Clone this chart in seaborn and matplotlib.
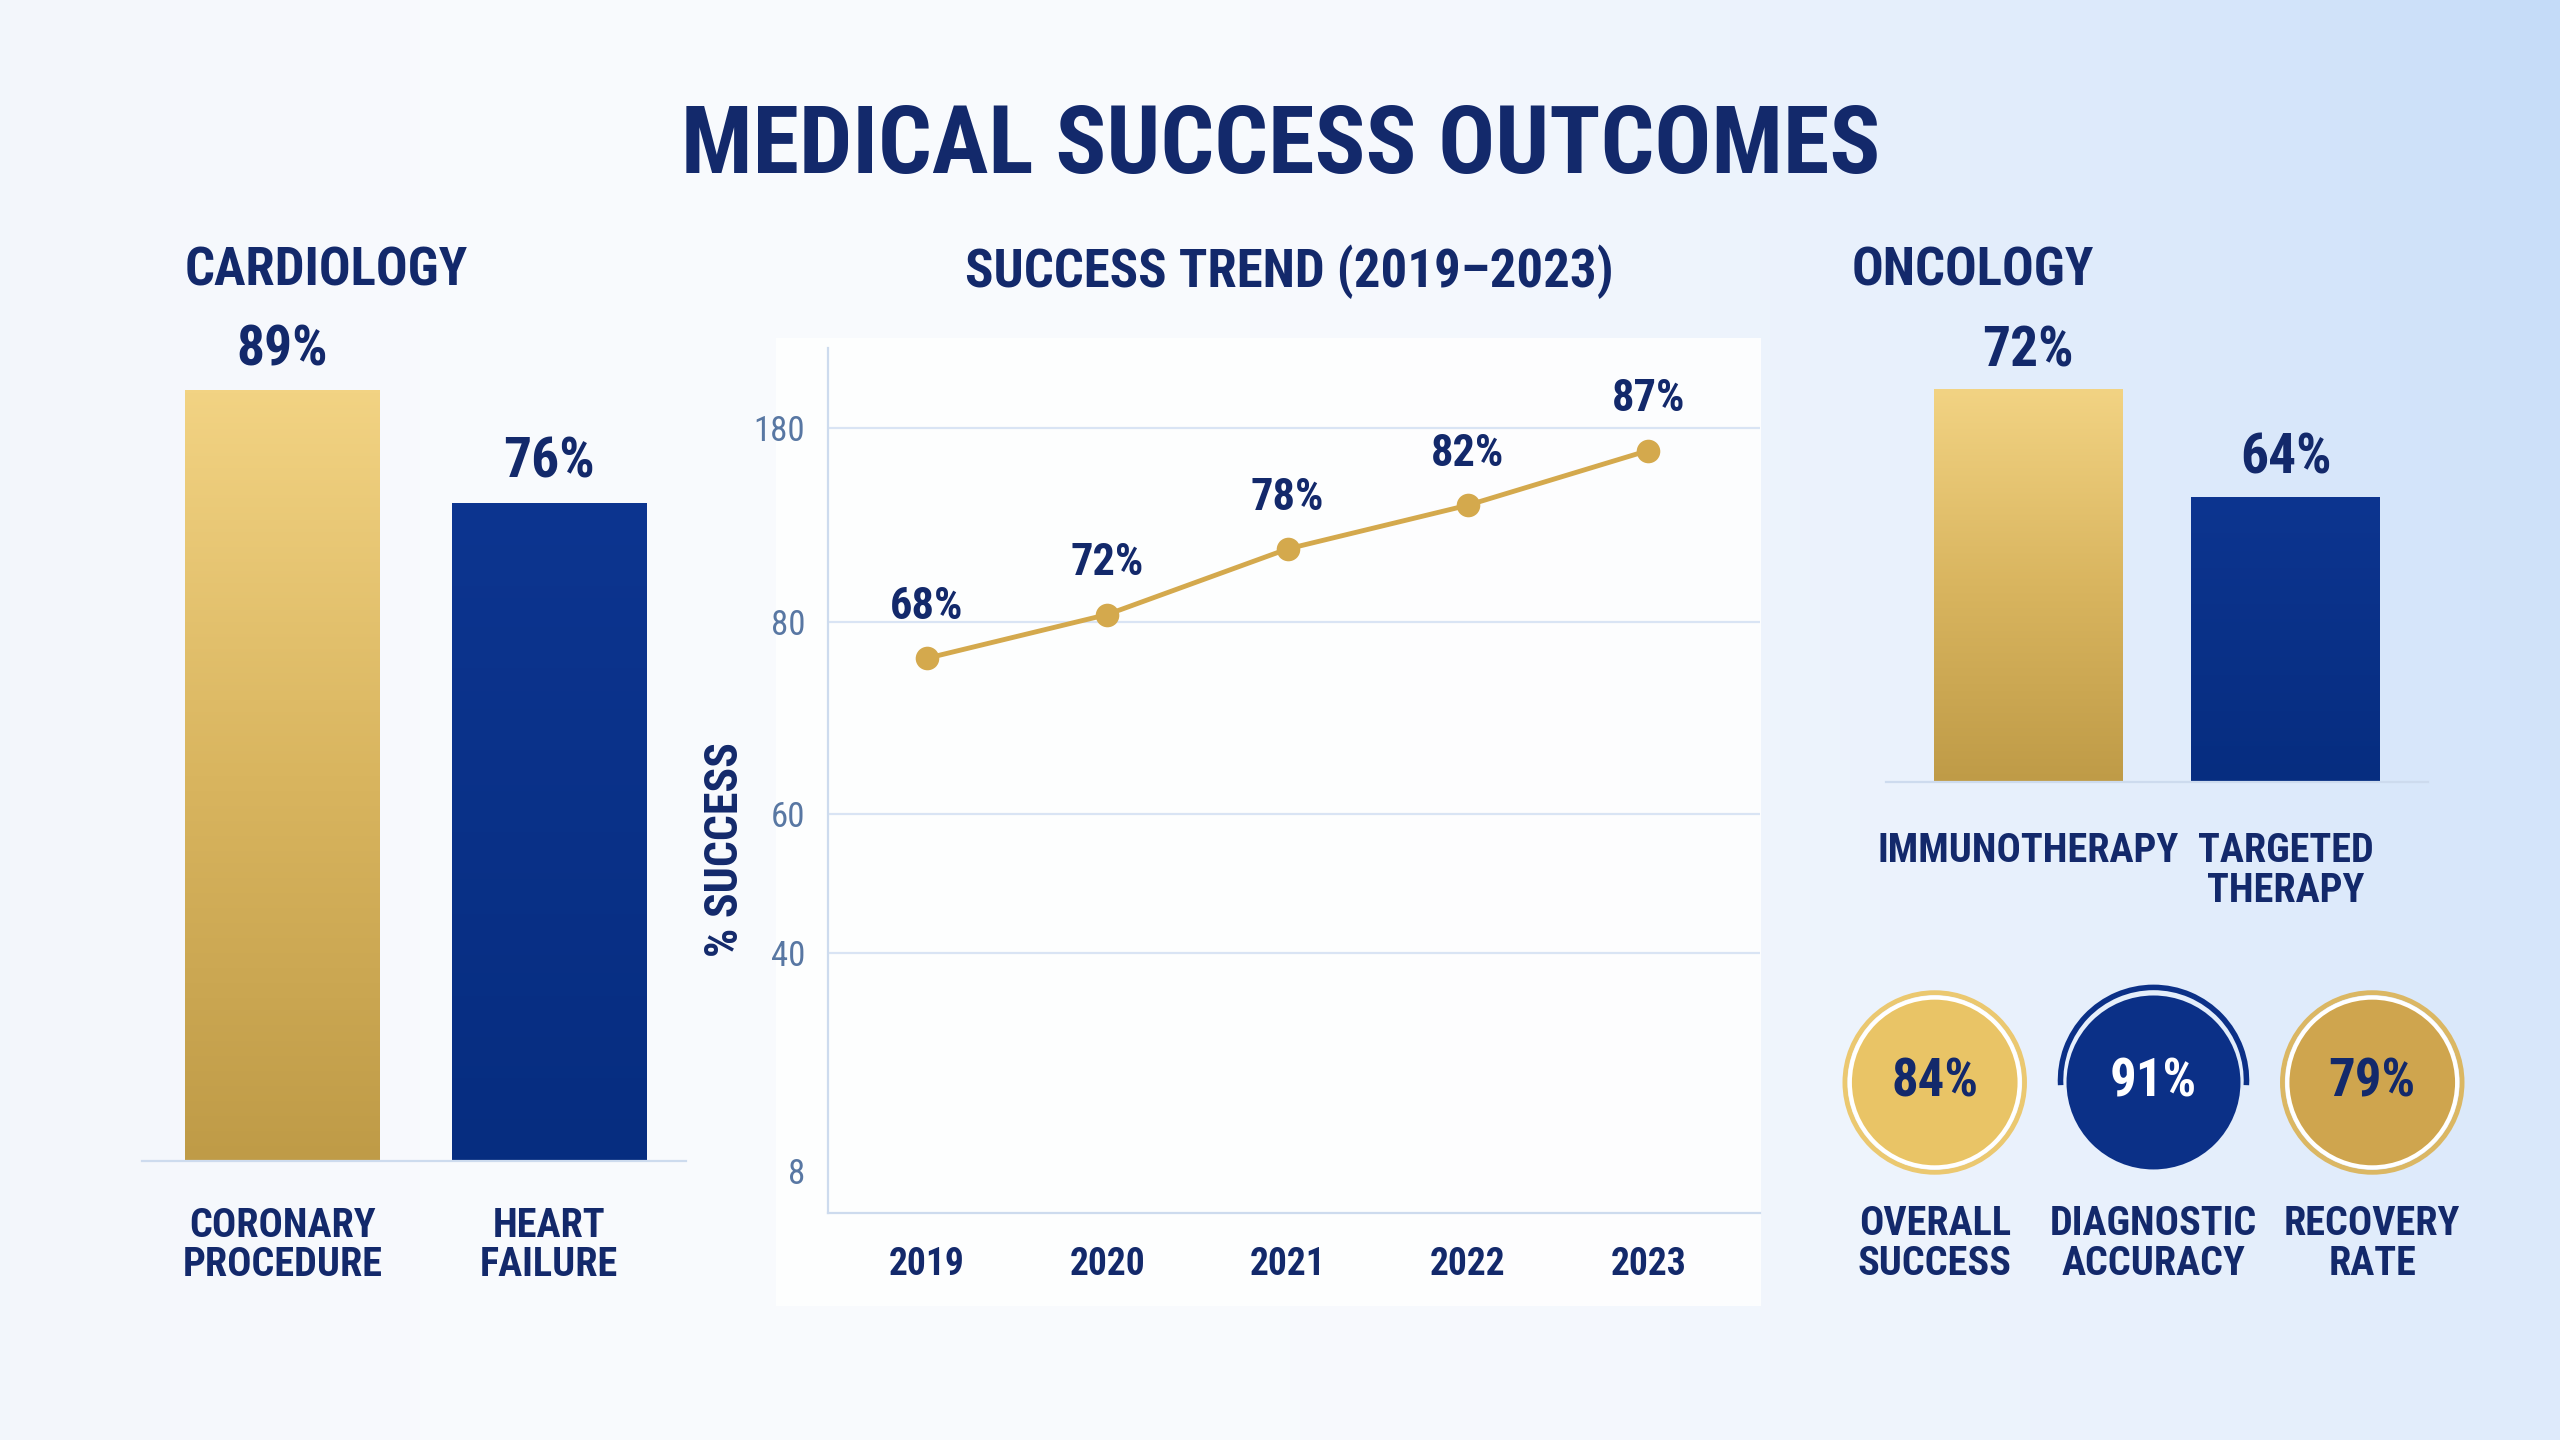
import numpy as np
import matplotlib
matplotlib.use("Agg")
import matplotlib.pyplot as plt
import seaborn as sns
from matplotlib import font_manager
from matplotlib.patches import Rectangle, Arc
from matplotlib.colors import LinearSegmentedColormap

# data
cardio_labels = ["CORONARY\nPROCEDURE", "HEART\nFAILURE"]
cardio_values = [89, 76]
onco_labels = ["IMMUNOTHERAPY", "TARGETED\nTHERAPY"]
onco_values = [72, 64]
years = [2019, 2020, 2021, 2022, 2023]
trend_values = [68, 72, 78, 82, 87]
trend_ticks = [21.1, 41.0, 53.8, 71.3, 89.1]
trend_tick_labels = ["8", "40", "60", "80", "180"]
kpi_labels = ["OVERALL\nSUCCESS", "DIAGNOSTIC\nACCURACY", "RECOVERY\nRATE"]
kpi_values = [84, 91, 79]

NAVY_TXT = "#13296b"
NAVY = "#0b3087"
GOLD = "#dcb763"
GOLD_LINE = "#d4a94d"
TICK_BLUE = "#5877a3"
GRID = "#d9e4f4"
SPINE = "#cddbee"

sns.set_theme(style="white")

# pick the narrowest family that is installed
installed = {f.name for f in font_manager.fontManager.ttflist}
K = 0.86
for fam in ["Roboto Condensed", "Liberation Sans Narrow"]:
    if fam in installed:
        K = 1.0
        break
plt.rcParams["font.family"] = ["Roboto Condensed", "Liberation Sans Narrow",
                               "Roboto", "DejaVu Sans"]

fig = plt.figure(figsize=(25.6, 14.4), dpi=100)

# background gradient
bg = fig.add_axes([0, 0, 1, 1], zorder=-10)
H, W = 144, 256
X, Y = np.meshgrid(np.linspace(0, 1, W), np.linspace(0, 1, H))
base = np.array([0.975, 0.982, 0.995])
blue = np.array([0.77, 0.86, 0.975])
edge = np.array([0.93, 0.95, 0.975])
w = np.clip((X - 0.45) / 0.55, 0, 1) ** 1.6 * (1 - 0.5 * Y)
w2 = np.clip((0.18 - X) / 0.18, 0, 1) * 0.5
img = base * (1 - w[..., None]) + blue * w[..., None]
img = img * (1 - w2[..., None]) + edge * w2[..., None]
bg.imshow(img, extent=[0, 1, 0, 1], aspect="auto", origin="upper")
bg.set_axis_off()

# white panel behind the trend chart
fig.add_artist(Rectangle((0.303, 0.093), 0.385, 0.672, transform=fig.transFigure,
                         facecolor="white", alpha=0.85, edgecolor="none", zorder=-5))

gold_cmap = LinearSegmentedColormap.from_list("g", ["#bf9b47", "#d9b55f", "#f2d383"])
navy_cmap = LinearSegmentedColormap.from_list("n", ["#062d80", "#0d3590"])


def shade_bars(ax, colors):
    ybot = ax.get_ylim()[0]
    for patch, c in zip(ax.patches, colors):
        x0, y0 = patch.get_x(), patch.get_y()
        w_, h_ = patch.get_width(), patch.get_height()
        y1 = y0 + h_
        y0 = max(y0, ybot)
        cmap = gold_cmap if c == GOLD else navy_cmap
        grad = np.linspace(0, 1, 256).reshape(-1, 1)
        ax.imshow(grad, extent=[x0, x0 + w_, y0, y1], aspect="auto",
                  origin="lower", cmap=cmap, zorder=patch.get_zorder() + 0.1)


def bar_panel(rect, labels, values, xlim, ylim, pad, offset):
    ax = fig.add_axes(rect)
    colors = [GOLD, NAVY]
    sns.barplot(x=labels, y=values, hue=labels, palette=colors, legend=False,
                width=0.73, ax=ax, linewidth=0)
    ax.set_xlim(*xlim)
    ax.set_ylim(*ylim)
    shade_bars(ax, colors)
    ax.set_xlim(*xlim)
    ax.set_ylim(*ylim)
    ax.set_facecolor("none")
    for s in ["top", "right", "left"]:
        ax.spines[s].set_visible(False)
    ax.spines["bottom"].set_color(SPINE)
    ax.spines["bottom"].set_linewidth(1.6)
    ax.spines["bottom"].set_zorder(5)
    ax.set_yticks([])
    ax.set_xlabel("")
    ax.set_ylabel("")
    ax.tick_params(axis="x", length=0, pad=pad, labelsize=29 * K, labelcolor=NAVY_TXT)
    for t in ax.get_xticklabels():
        t.set_fontweight("bold")
        t.set_linespacing(1.05)
        t.set_va("top")
    for i, v in enumerate(values):
        ax.annotate(f"{v}%", (i, v), xytext=(0, offset), textcoords="offset points",
                    ha="center", va="center", fontsize=40 * K, fontweight="bold",
                    color=NAVY_TXT)
    return ax


# cardiology
bar_panel([0.0555, 0.1939, 0.2124, 0.5794], cardio_labels, cardio_values,
          (-0.528, 1.515), (0, 96.4), 33, 29)
# oncology (axis starts above zero)
bar_panel([0.7366, 0.4569, 0.2117, 0.3163], onco_labels, onco_values,
          (-0.551, 1.551), (42.9, 76.7), 36, 28)

# trend line
ax2 = fig.add_axes([0.3233, 0.1576, 0.3642, 0.6009])
ax2.set_facecolor("none")
sns.lineplot(x=years, y=trend_values, color=GOLD_LINE, linewidth=3.5, marker="o",
             markersize=17, markeredgewidth=0, ax=ax2)
ax2.set_xlim(2018.45, 2023.62)
ax2.set_ylim(17.26, 96.4)
ax2.set_xticks(years)
ax2.set_xticklabels([str(y) for y in years])
ax2.set_yticks(trend_ticks)
ax2.set_yticklabels(trend_tick_labels)
ax2.yaxis.grid(True, color=GRID, linewidth=1.6)
ax2.xaxis.grid(False)
ax2.get_ygridlines()[0].set_visible(False)
for s in ["top", "right"]:
    ax2.spines[s].set_visible(False)
for s in ["left", "bottom"]:
    ax2.spines[s].set_color(SPINE)
    ax2.spines[s].set_linewidth(1.6)
ax2.tick_params(axis="x", length=0, pad=24, labelsize=27 * K, labelcolor=NAVY_TXT)
ax2.tick_params(axis="y", length=0, pad=16, labelsize=25 * K, labelcolor=TICK_BLUE)
for t in ax2.get_xticklabels():
    t.set_fontweight("bold")
ax2.set_xlabel("")
ax2.set_ylabel("% SUCCESS", fontsize=33 * K, fontweight="bold", color=NAVY_TXT)
ax2.yaxis.set_label_coords(-0.086, 0.42)
for x, v in zip(years, trend_values):
    ax2.annotate(f"{v}%", (x, v), xytext=(0, 37), textcoords="offset points",
                 ha="center", va="center", fontsize=32 * K, fontweight="bold",
                 color=NAVY_TXT)

# kpi circles
ax3 = fig.add_axes([0.7079, 0.161, 0.2679, 0.170])
ax3.set_xlim(-0.56, 2.575)
ax3.set_ylim(-0.575, 0.545)
ax3.set_axis_off()
kpi_x = list(range(len(kpi_values)))
kpi_fill = ["#e9c466", NAVY, "#cfa54e"]
kpi_ring = ["#ebc870", None, "#dbb763"]
kpi_txt = [NAVY_TXT, "white", NAVY_TXT]
sns.scatterplot(x=kpi_x, y=[0] * len(kpi_x), hue=kpi_labels, palette=kpi_fill,
                s=(104 * 1.1755) ** 2, edgecolor="white", linewidth=3,
                legend=False, ax=ax3, zorder=3)
ax3.collections[0].set_edgecolors(["white", NAVY, "white"])
ring_x = [x for x, c in zip(kpi_x, kpi_ring) if c]
ring_c = [c for c in kpi_ring if c]
ax3.scatter(ring_x, [0] * len(ring_x), s=(110 * 1.1755) ** 2, facecolors="none",
            edgecolors=ring_c, linewidths=3.5, zorder=2)
ax3.add_patch(Arc((1, 0.01), 2 * 0.425, 2 * 0.425, theta1=-3, theta2=183,
                  color=NAVY, linewidth=4, zorder=2))
for x, v, lab, tc in zip(kpi_x, kpi_values, kpi_labels, kpi_txt):
    ax3.text(x, 0, f"{v}%", ha="center", va="center", fontsize=38 * K,
             fontweight="bold", color=tc, zorder=4)
    ax3.text(x, -0.74, lab, ha="center", va="center", fontsize=29 * K,
             fontweight="bold", color=NAVY_TXT, linespacing=1.05, clip_on=False)

# headings
fig.text(0.5003, 0.898, "MEDICAL SUCCESS OUTCOMES", ha="center", va="center",
         fontsize=68 * K, fontweight="bold", color=NAVY_TXT)
fig.text(0.0721, 0.8115, "CARDIOLOGY", ha="left", va="center", fontsize=38 * K,
         fontweight="bold", color=NAVY_TXT)
fig.text(0.5038, 0.8115, "SUCCESS TREND (2019\u20132023)", ha="center", va="center",
         fontsize=38 * K, fontweight="bold", color=NAVY_TXT)
fig.text(0.7232, 0.8115, "ONCOLOGY", ha="left", va="center", fontsize=38 * K,
         fontweight="bold", color=NAVY_TXT)

fig.savefig("out.png", dpi=100)
